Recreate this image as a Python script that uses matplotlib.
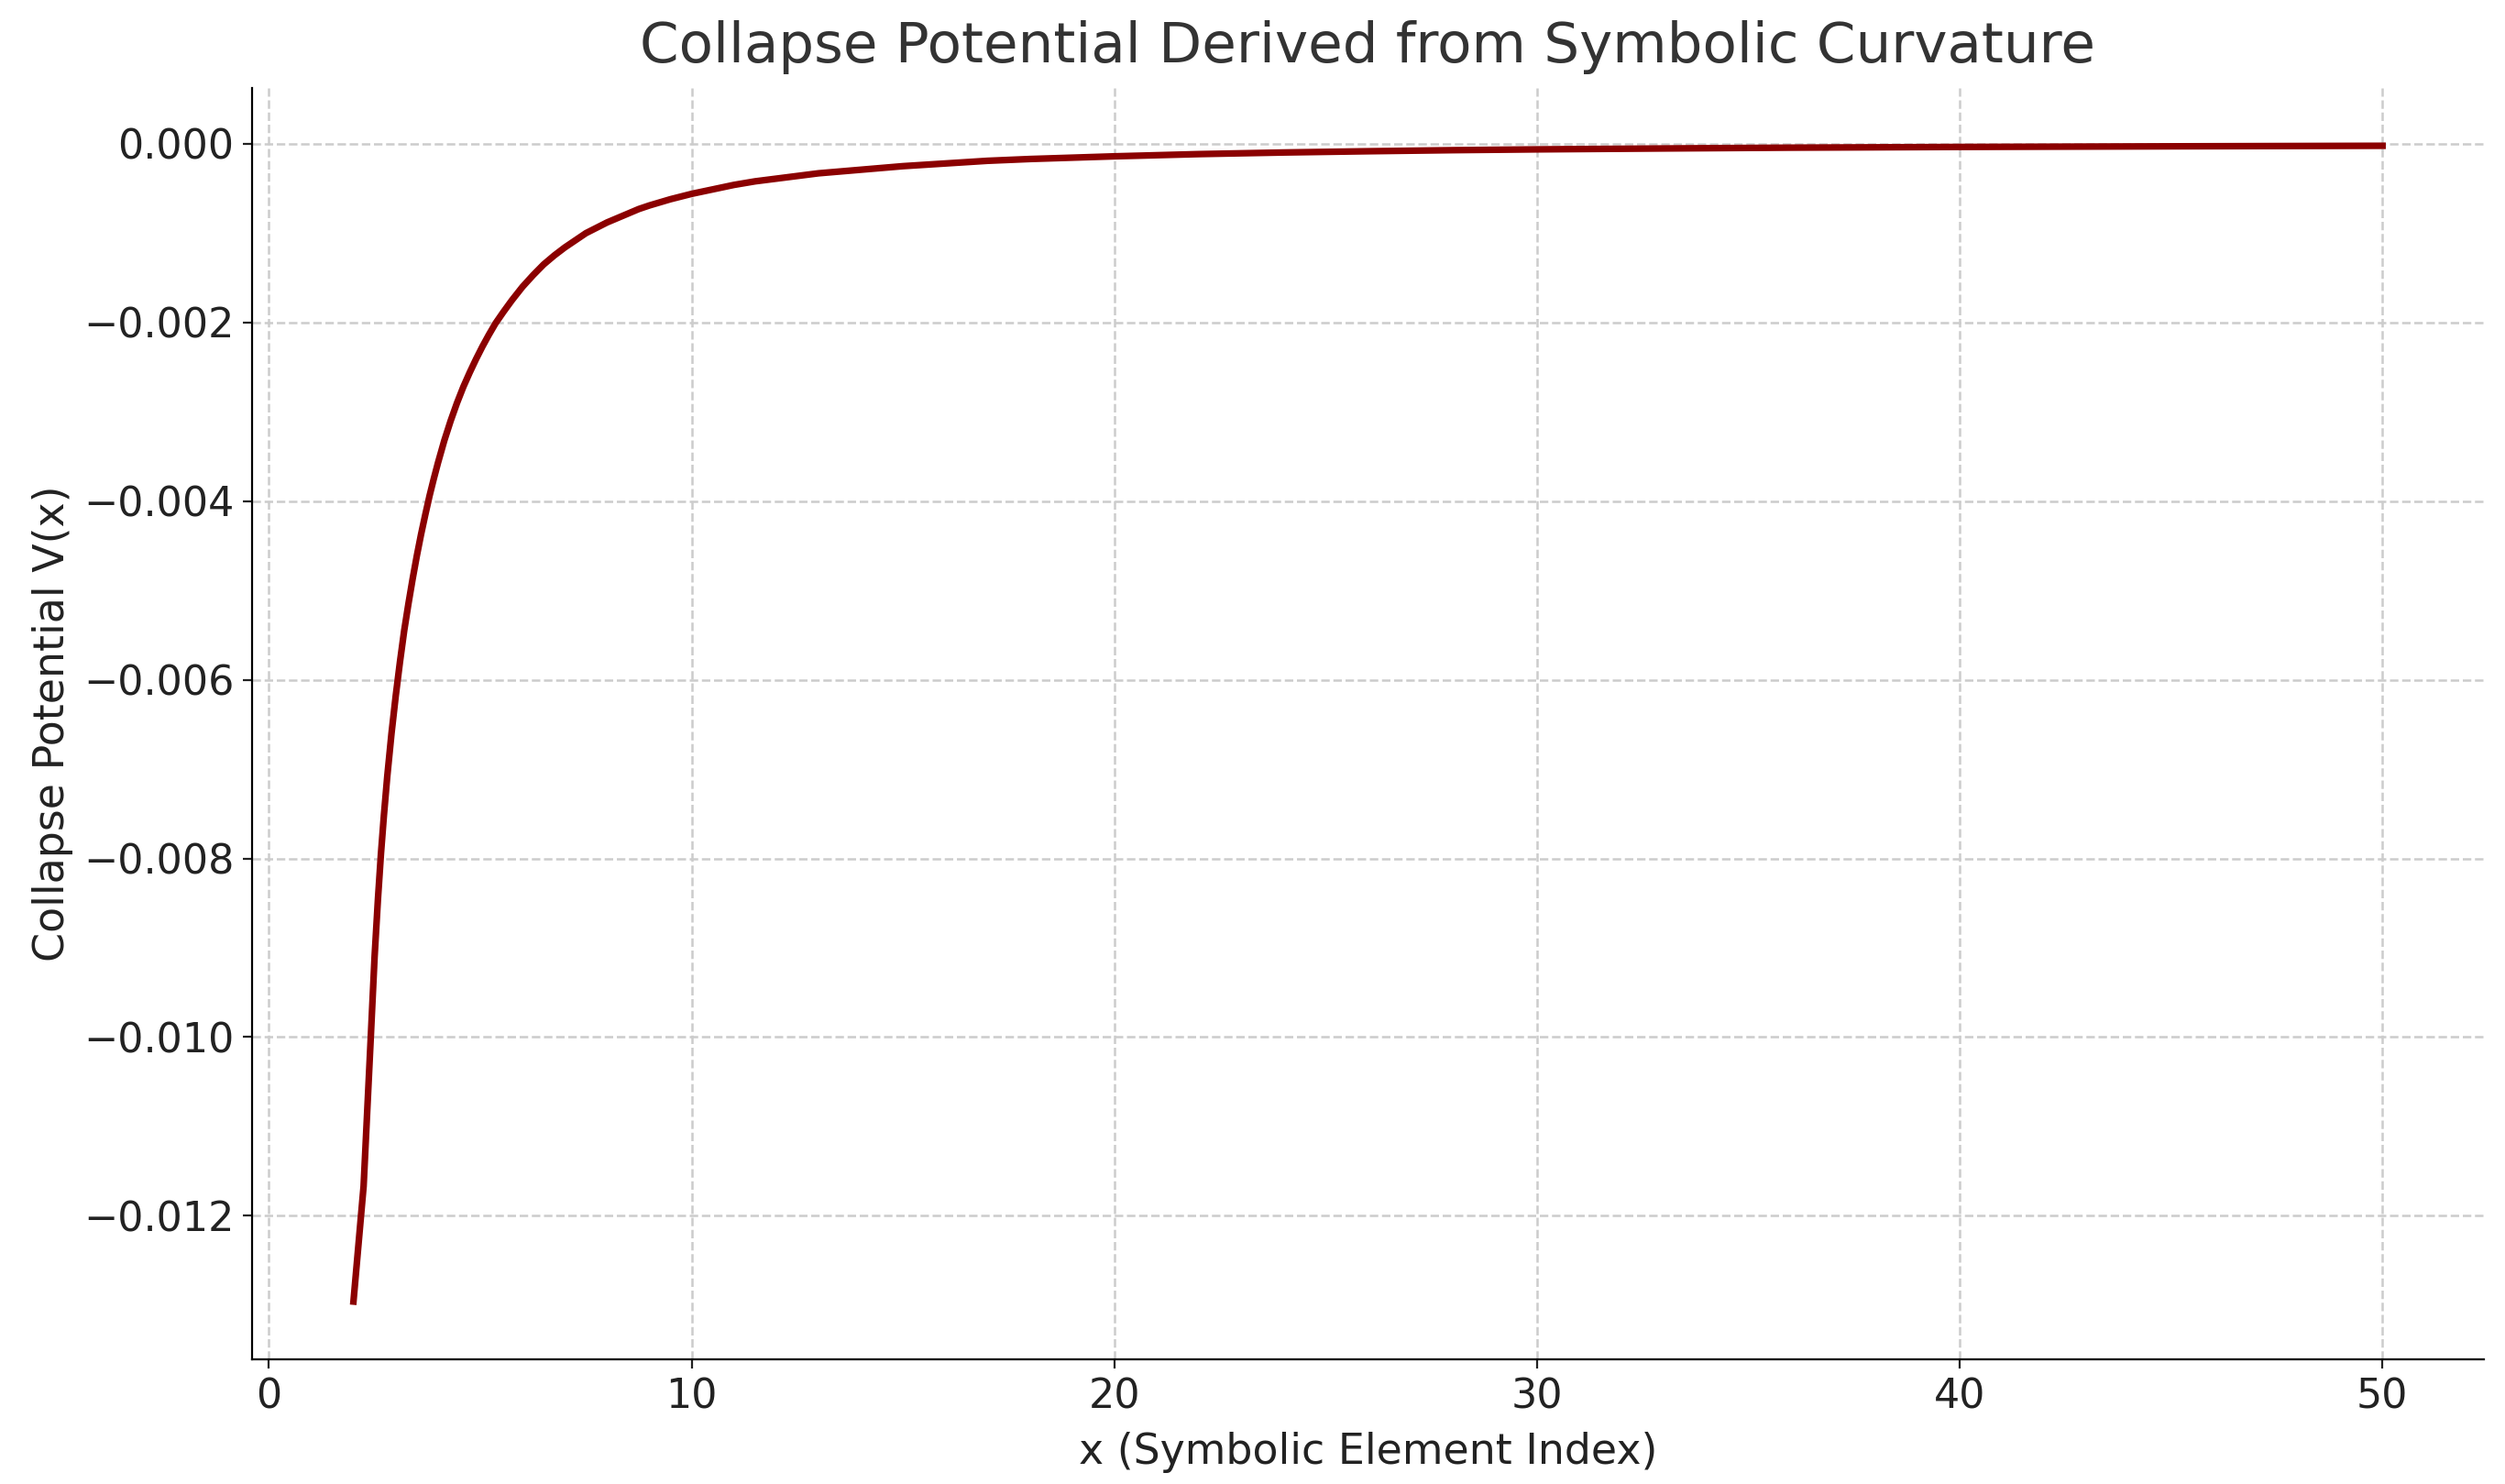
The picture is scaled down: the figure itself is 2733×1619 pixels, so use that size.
import numpy as np
import matplotlib.pyplot as plt

# values
x_vals = [2.0, 2.24, 2.41, 2.5, 2.58, 2.65, 2.72, 2.8, 2.9, 3.0, 3.1, 3.2,
          3.3, 3.4, 3.5, 3.6, 3.7, 3.8, 3.9, 4.0, 4.15, 4.3, 4.45, 4.6,
          4.75, 4.9, 5.05, 5.2, 5.36, 5.55, 5.75, 6.0, 6.25, 6.5, 6.75,
          7.0, 7.25, 7.5, 7.75, 8.0, 8.25, 8.5, 8.75, 9.0, 9.5, 10, 10.5,
          11, 11.5, 12, 13, 14, 15, 16, 17, 18, 19, 20, 22, 24, 26, 28,
          30, 33, 36, 40, 45, 50]
v_vals = [-0.01296, -0.01167, -0.0100, -0.0091, -0.00845, -0.00795,
          -0.00752, -0.00708, -0.00660, -0.00618, -0.00580, -0.00545,
          -0.00515, -0.00487, -0.00461, -0.00437, -0.00415, -0.00394,
          -0.00375, -0.00357, -0.00332, -0.00310, -0.00290, -0.00272,
          -0.00256, -0.00241, -0.00227, -0.00214, -0.00201, -0.00188,
          -0.00175, -0.00160, -0.00147, -0.00135, -0.00125, -0.00116,
          -0.00108, -0.00100, -0.00094, -0.00088, -0.00083, -0.00078,
          -0.00073, -0.00069, -0.00062, -0.00056, -0.00051, -0.00046,
          -0.00042, -0.00039, -0.00033, -0.00029, -0.00025, -0.00022,
          -0.00019, -0.00017, -0.000155, -0.00014, -0.000115, -0.000097,
          -0.000083, -0.000071, -0.000062, -0.000052, -0.000043,
          -0.000035, -0.000028, -0.000022]

title = "Collapse Potential Derived from Symbolic Curvature"
x_label = "x (Symbolic Element Index)"
y_label = "Collapse Potential V(x)"


def plot_potential():
    fig, ax = plt.subplots(figsize=(13.665, 8.095), dpi=200)
    fig.subplots_adjust(left=0.1006, right=0.9916, top=0.9407, bottom=0.084)

    ax.plot(x_vals, v_vals, color="darkred", linewidth=2.6)

    ax.set_title(title, fontsize=22, color="#333333", pad=10)
    ax.set_xlabel(x_label, fontsize=16.5, color="#222222", labelpad=6)
    ax.set_ylabel(y_label, fontsize=16.5, color="#222222")
    ax.tick_params(labelsize=16, colors="#222222")

    # dashed grid, only left/bottom spines
    ax.grid(True, linestyle="--", color="#cccccc", linewidth=0.9)
    ax.spines["top"].set_visible(False)
    ax.spines["right"].set_visible(False)

    fig.savefig("out.png", dpi=200)


if __name__ == "__main__":
    plot_potential()
